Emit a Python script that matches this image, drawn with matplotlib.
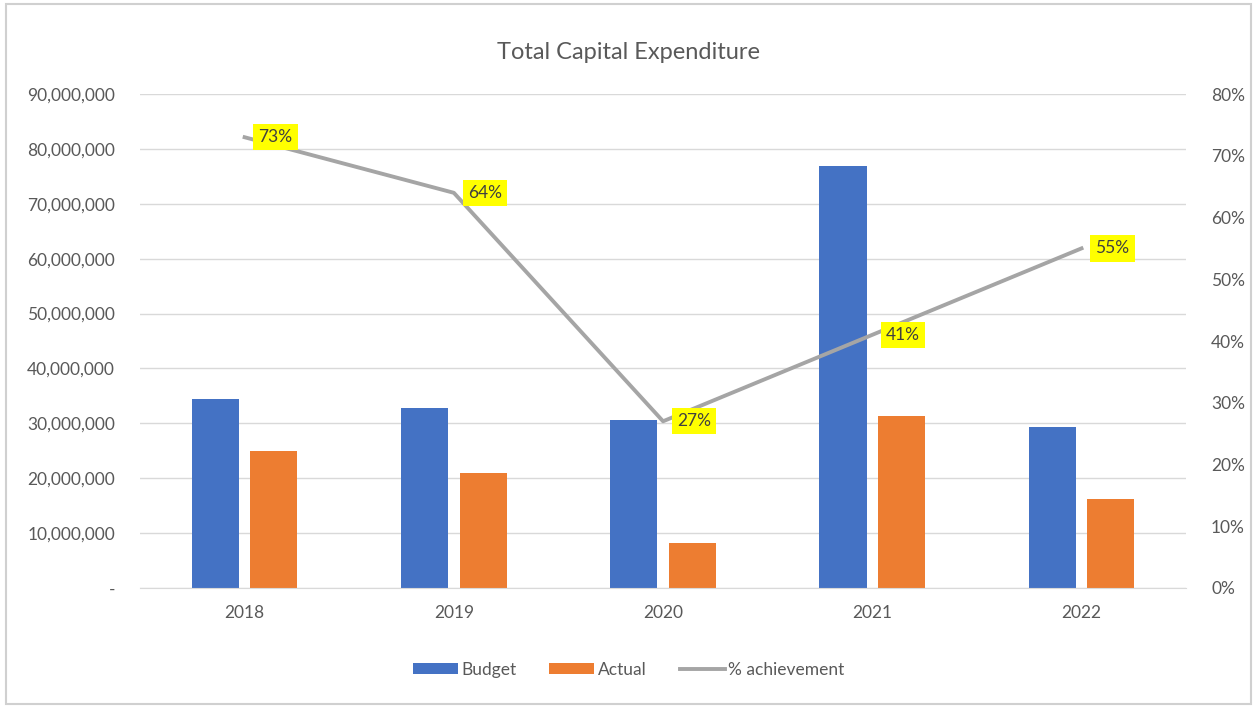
import matplotlib
matplotlib.use("Agg")
import matplotlib.pyplot as plt
import matplotlib.ticker as mticker
import numpy as np

years = ["2018", "2019", "2020", "2021", "2022"]
budget = [34.4e6, 32.8e6, 30.6e6, 76.9e6, 29.3e6]
actual = [25.0e6, 21.0e6, 8.2e6, 31.3e6, 16.2e6]
achievement = [0.73, 0.64, 0.27, 0.41, 0.55]

plt.rcParams["font.family"] = ["Lato", "DejaVu Sans"]

BLUE = "#4472C4"
ORANGE = "#ED7D31"
GREY = "#A5A5A5"
TXT = "#595959"

fig = plt.figure(figsize=(12.57, 7.08), dpi=100)
ax = fig.add_axes([0.1114, 0.1695, 0.8322, 0.6977])
ax2 = ax.twinx()

x = np.arange(len(years))
w = 0.225
b1 = ax.bar(x - 0.14, budget, w, color=BLUE, label="Budget", zorder=2)
b2 = ax.bar(x + 0.14, actual, w, color=ORANGE, label="Actual", zorder=2)
ln, = ax2.plot(x, achievement, color=GREY, lw=2.8, label="% achievement", zorder=3)

ax.set_xlim(-0.5, len(years) - 0.5)
ax.set_ylim(0, 90e6)
ax2.set_ylim(0, 0.8)
ax.set_yticks(np.arange(0, 90e6 + 1, 10e6))
ax2.set_yticks(np.arange(0, 0.81, 0.1))
ax.yaxis.set_major_formatter(mticker.FuncFormatter(lambda v, p: "-" if v == 0 else f"{v:,.0f}"))
ax2.yaxis.set_major_formatter(mticker.FuncFormatter(lambda v, p: f"{v:.0%}"))
ax.set_xticks(x)
ax.set_xticklabels(years)

ax.grid(axis="y", color="#D9D9D9", lw=1, zorder=0)
ax.set_axisbelow(True)
for a in (ax, ax2):
    for s in a.spines.values():
        s.set_visible(False)
    a.tick_params(length=0, labelsize=12.5, colors=TXT)
ax.spines["bottom"].set_visible(True)
ax.spines["bottom"].set_color("#D9D9D9")
ax.tick_params(axis="y", pad=18)
ax.tick_params(axis="x", pad=12)
ax2.tick_params(axis="y", pad=18)

for xi, v in zip(x, achievement):
    ax2.annotate(f"{v:.0%}", (xi, v), xytext=(10, 0), textcoords="offset points",
                 ha="left", va="center", fontsize=12.5, color="#404040",
                 bbox=dict(boxstyle="square,pad=0.3", fc="#FFFF00", ec="none"))

fig.suptitle("Total Capital Expenditure", y=0.94, fontsize=17, color=TXT)
fig.legend(handles=[b1, b2, ln], loc="center", bbox_to_anchor=(0.5, 0.054), ncol=3,
           frameon=False, fontsize=12.5, labelcolor=TXT, handlelength=2.6,
           handleheight=0.6, columnspacing=1.9, handletextpad=0.2)

fig.patches.append(plt.Rectangle((0.005, 0.006), 0.99, 0.988, transform=fig.transFigure,
                                 fill=False, ec="#D0D0D0", lw=1.5))

fig.savefig("out.png", dpi=100)
